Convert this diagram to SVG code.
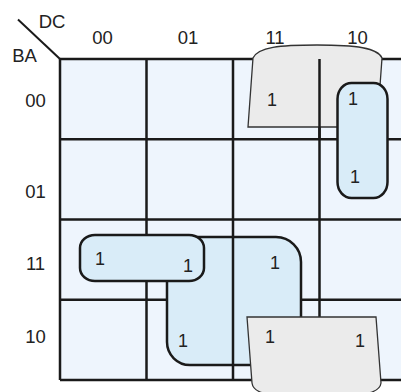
<svg xmlns="http://www.w3.org/2000/svg" width="401" height="392" viewBox="0 0 401 392">
<style>
.lbl{font-family:"Liberation Sans",Arial,sans-serif;font-size:18.5px;fill:#222;text-anchor:middle}
.one{font-family:"Liberation Sans",Arial,sans-serif;font-size:18px;fill:#222;text-anchor:middle}
.grid{stroke:#1a1a1a;stroke-width:2.5;fill:none}
.blue{fill:#d9ecf8;stroke:#1a1a1a;stroke-width:2.5}
.grey{fill:#ebebeb;stroke:#333;stroke-width:1.3}
</style>
<rect width="401" height="392" fill="#fff"/>
<g id="grid">
<rect x="60" y="59" width="350" height="321" fill="#eef5fd"/>
<path class="grid" d="M60,59H401M60,139.3H401M60,219.5H401M60,299.8H401M60,380H401M60,59V380M146.5,59V380M233,59V380M319.5,59V380"/>
<line x1="18" y1="19.5" x2="60" y2="59" stroke="#1a1a1a" stroke-width="2"/>
</g>
<g id="labels">
<text class="lbl" x="52" y="27.5">DC</text>
<text class="lbl" x="24.5" y="61.5">BA</text>
<text class="lbl" x="102.5" y="43.5">00</text>
<text class="lbl" x="188" y="43.5">01</text>
<text class="lbl" x="275" y="43.5">11</text>
<text class="lbl" x="357.5" y="43.5">10</text>
<text class="lbl" x="35.5" y="106.5">00</text>
<text class="lbl" x="35.5" y="197.5">01</text>
<text class="lbl" x="35.5" y="270">11</text>
<text class="lbl" x="35.5" y="343">10</text>
</g>
<g id="loops">
<path id="loop-top-grey" class="grey" d="M248,127L253,58C258,47 280,45 317,45C356,45 378,48 382,58L377,127Z"/>
<line x1="319.5" y1="59" x2="319.5" y2="139.3" stroke="#1a1a1a" stroke-width="2.5"/>
<rect id="loop-col10" class="blue" x="337.5" y="83" width="50" height="115" rx="14" ry="16"/>
<path id="loop-L" class="blue" d="M167,237H276A25,25 0 0 1 301,262V365H190A23,23 0 0 1 167,342Z"/>
<line x1="233" y1="237" x2="233" y2="365" stroke="#1a1a1a" stroke-width="2.5"/>
<rect id="loop-row11" class="blue" x="80" y="235" width="124" height="46" rx="15" ry="13"/>
<path id="loop-bottom-grey" class="grey" d="M247,317H376L381,383C380,391 370,394 350,396H280C262,394 253,391 252,383Z"/>
</g>
<g id="ones">
<text class="one" x="272" y="105.5">1</text>
<text class="one" x="353" y="104.5">1</text>
<text class="one" x="355" y="183">1</text>
<text class="one" x="100" y="264.5">1</text>
<text class="one" x="188" y="271.5">1</text>
<text class="one" x="275" y="268.5">1</text>
<text class="one" x="183" y="346.5">1</text>
<text class="one" x="270" y="342.5">1</text>
<text class="one" x="360" y="346.5">1</text>
</g>
</svg>
